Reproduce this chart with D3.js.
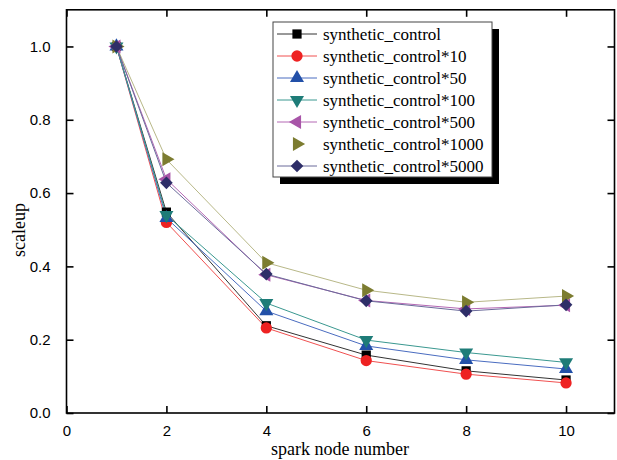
<!DOCTYPE html>
<html>
<head>
<meta charset="utf-8">
<script src="https://cdn.jsdelivr.net/npm/d3@7/dist/d3.min.js"></script>
<style>
  html, body { margin: 0; padding: 0; background: #fff; }
  svg { display: block; }
</style>
</head>
<body>
<svg id="chart" width="617" height="460"></svg>
<script>
// Spark node counts on the x axis
const nodes = [1, 2, 4, 6, 8, 10];

// Scale-up ratio for each dataset size
const seriesNames = [
  "synthetic_control",
  "synthetic_control*10",
  "synthetic_control*50",
  "synthetic_control*100",
  "synthetic_control*500",
  "synthetic_control*1000",
  "synthetic_control*5000"
];
const scBase   = [1.0, 0.548, 0.238, 0.158, 0.115, 0.090];
const sc10     = [1.0, 0.520, 0.232, 0.143, 0.106, 0.082];
const sc50     = [1.0, 0.532, 0.278, 0.183, 0.145, 0.120];
const sc100    = [1.0, 0.540, 0.300, 0.199, 0.165, 0.138];
const sc500    = [1.0, 0.638, 0.377, 0.307, 0.284, 0.294];
const sc1000   = [1.0, 0.692, 0.410, 0.335, 0.302, 0.319];
const sc5000   = [1.0, 0.628, 0.379, 0.306, 0.278, 0.295];

const xTicks = [0, 2, 4, 6, 8, 10];
const yTicks = [0.0, 0.2, 0.4, 0.6, 0.8, 1.0];

// Per-series styling
const styles = [
  { line: "#333333", fill: "#000000", symbol: d3.symbolSquare,   rot: 0,   size: 85 },
  { line: "#f05050", fill: "#ee2222", symbol: d3.symbolCircle,   rot: 0,   size: 100 },
  { line: "#4a6cc0", fill: "#2250a8", symbol: d3.symbolTriangle, rot: 0,   size: 85 },
  { line: "#3a9890", fill: "#1e7c78", symbol: d3.symbolTriangle, rot: 180, size: 85 },
  { line: "#b468b4", fill: "#a855a8", symbol: d3.symbolTriangle, rot: -90, size: 85 },
  { line: "#b8b888", fill: "#7c7c30", symbol: d3.symbolTriangle, rot: 90,  size: 85, noLegendLine: true },
  { line: "#6a6a9a", fill: "#2e2e68", symbol: d3.symbolSquare,   rot: 45,  size: 80 }
];
const seriesValues = [scBase, sc10, sc50, sc100, sc500, sc1000, sc5000];

const svg = d3.select("#chart");
const plotLeft = 66.5, plotRight = 616, plotTop = 9.8, plotBottom = 413;

const x = d3.scaleLinear().domain([0, 11]).range([plotLeft, plotRight]);
const y = d3.scaleLinear().domain([0, 1.1]).range([plotBottom, plotTop]);

// Lines
const line = d3.line().x((d, i) => x(nodes[i])).y(d => y(d));
seriesValues.forEach((vals, s) => {
  svg.append("path")
    .datum(vals)
    .attr("d", line)
    .attr("fill", "none")
    .attr("stroke", styles[s].line)
    .attr("stroke-width", 1);
});

// Markers
seriesValues.forEach((vals, s) => {
  const st = styles[s];
  svg.append("g").selectAll("path")
    .data(vals)
    .join("path")
    .attr("d", d3.symbol().type(st.symbol).size(st.size))
    .attr("transform", (d, i) => `translate(${x(nodes[i])},${y(d)}) rotate(${st.rot})`)
    .attr("fill", st.fill);
});

// Frame and inward ticks on all four sides
const axisW = 1.6;
svg.append("rect")
  .attr("x", plotLeft).attr("y", plotTop)
  .attr("width", plotRight - plotLeft - 1.5).attr("height", plotBottom - plotTop)
  .attr("fill", "none").attr("stroke", "#000").attr("stroke-width", axisW);

const tickLen = 7;
const axisBottom = d3.axisBottom(x).tickValues(xTicks).tickSize(-tickLen).tickPadding(tickLen + 5).tickFormat(d3.format("d"));
const gx = svg.append("g").attr("transform", `translate(0,${plotBottom})`).call(axisBottom);
const axisLeft = d3.axisLeft(y).tickValues(yTicks).tickSize(-tickLen).tickPadding(tickLen + 9).tickFormat(d3.format(".1f"));
const gy = svg.append("g").attr("transform", `translate(${plotLeft},0)`).call(axisLeft);
const axisTop = d3.axisTop(x).tickValues(xTicks).tickSize(-tickLen).tickFormat("");
const gt = svg.append("g").attr("transform", `translate(0,${plotTop})`).call(axisTop);
const axisRight = d3.axisRight(y).tickValues(yTicks).tickSize(-tickLen).tickFormat("");
const gr = svg.append("g").attr("transform", `translate(${plotRight - 1.5},0)`).call(axisRight);

[gx, gy, gt, gr].forEach(g => {
  g.select(".domain").remove();
  g.selectAll(".tick line").attr("stroke", "#000").attr("stroke-width", axisW);
  g.selectAll(".tick text")
    .attr("fill", "#000")
    .style("font-family", "'Liberation Sans', Arial, sans-serif")
    .style("font-size", "15px");
});

// Axis titles
svg.append("text")
  .attr("x", 340).attr("y", 455)
  .attr("text-anchor", "middle")
  .style("font-family", "'Liberation Serif', 'Times New Roman', serif")
  .style("font-size", "18px")
  .text("spark node number");

svg.append("text")
  .attr("transform", "translate(25,230) rotate(-90)")
  .attr("text-anchor", "middle")
  .style("font-family", "'Liberation Serif', 'Times New Roman', serif")
  .style("font-size", "18px")
  .text("scaleup");

// Legend with drop shadow
const lgX = 273, lgY = 22, lgW = 219, lgH = 155, rowH = 22;
svg.append("rect")
  .attr("x", lgX + 7).attr("y", lgY + 7).attr("width", lgW).attr("height", lgH)
  .attr("fill", "#000");
svg.append("rect")
  .attr("x", lgX).attr("y", lgY).attr("width", lgW).attr("height", lgH)
  .attr("fill", "#fff").attr("stroke", "#444").attr("stroke-width", 1);

seriesNames.forEach((name, s) => {
  const st = styles[s];
  const cy = lgY + 12 + s * rowH;
  const g = svg.append("g");
  if (!st.noLegendLine) {
    g.append("line")
      .attr("x1", lgX + 4).attr("x2", lgX + 44)
      .attr("y1", cy).attr("y2", cy)
      .attr("stroke", st.line).attr("stroke-width", 1);
  }
  g.append("path")
    .attr("d", d3.symbol().type(st.symbol).size(st.size))
    .attr("transform", `translate(${lgX + 24},${cy}) rotate(${st.rot})`)
    .attr("fill", st.fill);
  g.append("text")
    .attr("x", lgX + 50).attr("y", cy + 5.5)
    .style("font-family", "'Liberation Serif', 'Times New Roman', serif")
    .style("font-size", "17px")
    .text(name);
});
</script>
</body>
</html>
